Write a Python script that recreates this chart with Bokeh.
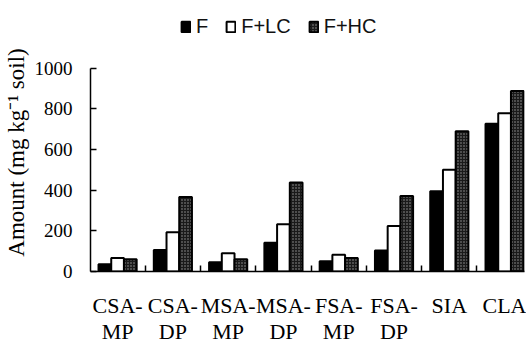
from bokeh.plotting import figure
from bokeh.models import ColumnDataSource, FixedTicker, Legend, LegendItem, Range1d, LinearAxis
from bokeh.embed import file_html
from bokeh.resources import INLINE

categories = ["CSA-\nMP", "CSA-\nDP", "MSA-\nMP", "MSA-\nDP", "FSA-\nMP", "FSA-\nDP", "SIA", "CLA"]
f_vals = [36, 106, 46, 142, 50, 103, 395, 727]
flc_vals = [66, 193, 90, 233, 82, 224, 501, 779]
fhc_vals = [60, 366, 60, 438, 66, 372, 690, 888]
series_names = ["F", "F+LC", "F+HC"]
y_ticks = [0, 200, 400, 600, 800, 1000]

idx = list(range(len(categories)))
line1 = [c.split("\n")[0] for c in categories]
line2 = [c.split("\n")[1] if "\n" in c else " " for c in categories]
bw = 0.23
src = ColumnDataSource(dict(
    x=idx,
    xf=[i - bw for i in idx],
    xh=[i + bw for i in idx],
    f=f_vals, lc=flc_vals, hc=fhc_vals,
))

# frame extends above the 1000 tick to hold the legend; the y axis line stops at 1000
p = figure(width=526, height=346, output_backend="svg", toolbar_location=None,
           x_range=Range1d(-0.49, 7.36), y_range=Range1d(0, 1284),
           min_border_left=89, min_border_right=2, min_border_top=10, min_border_bottom=10,
           background_fill_color="white", border_fill_color="white")
p.outline_line_color = None
p.grid.visible = False

r1 = p.vbar(x="xf", top="f", width=bw, source=src, fill_color="black",
            line_color="black", line_width=2)
r2 = p.vbar(x="x", top="lc", width=bw, source=src, fill_color="white",
            line_color="black", line_width=2)
r3 = p.vbar(x="xh", top="hc", width=bw, source=src, fill_color="#1a1a1a",
            hatch_pattern="dot", hatch_color="#9a9a9a", hatch_scale=3, hatch_weight=1,
            line_color="black", line_width=2)

# x axis: first line of labels
p.xaxis.ticker = FixedTicker(ticks=idx, minor_ticks=[i + 0.5 for i in idx[:-1]])
p.xaxis.major_label_overrides = {i: c for i, c in enumerate(line1)}
p.xaxis.major_tick_line_color = None
p.xaxis.minor_tick_in = 6
p.xaxis.minor_tick_out = 0
p.xaxis.minor_tick_line_width = 1.5
p.xaxis.axis_line_width = 1.5
p.xaxis.major_label_text_font = "Liberation Serif"
p.xaxis.major_label_text_font_size = "22px"
p.xaxis.major_label_text_color = "black"
p.xaxis.major_label_standoff = 15

# second line of labels
ax2 = LinearAxis(ticker=FixedTicker(ticks=idx, minor_ticks=[]),
                 major_label_overrides={i: c for i, c in enumerate(line2)},
                 axis_line_color=None, major_tick_line_color=None, minor_tick_line_color=None,
                 major_label_text_font="Liberation Serif", major_label_text_font_size="22px",
                 major_label_text_color="black", major_label_standoff=-8)
p.add_layout(ax2, "below")

# y axis
p.yaxis.ticker = FixedTicker(ticks=y_ticks, minor_ticks=[])
p.yaxis.bounds = (0, 1000)
p.yaxis.major_tick_in = 6
p.yaxis.major_tick_out = 0
p.yaxis.major_tick_line_width = 1.5
p.yaxis.axis_line_width = 1.5
p.yaxis.major_label_text_font = "Liberation Serif"
p.yaxis.major_label_text_font_size = "19px"
p.yaxis.major_label_text_color = "black"
p.yaxis.major_label_standoff = 18
p.yaxis.axis_label = "Amount (mg kg\u207b\u00b9 soil)" + "\u00a0" * 4
p.yaxis.axis_label_text_font = "Liberation Serif"
p.yaxis.axis_label_text_font_style = "normal"
p.yaxis.axis_label_text_font_size = "23px"
p.yaxis.axis_label_text_color = "black"
p.yaxis.axis_label_standoff = 3

legend = Legend(items=[LegendItem(label=n, renderers=[r]) for n, r in zip(series_names, [r1, r2, r3])],
                orientation="horizontal", location=(90, 233),
                label_text_font="Liberation Sans", label_text_font_size="20px",
                label_text_color="#111111", label_width=8,
                glyph_width=11, glyph_height=13, label_standoff=5, spacing=17,
                padding=4, margin=0, border_line_color=None, background_fill_alpha=0)
p.add_layout(legend, "center")

open("out.html", "w").write(file_html(p, INLINE))
